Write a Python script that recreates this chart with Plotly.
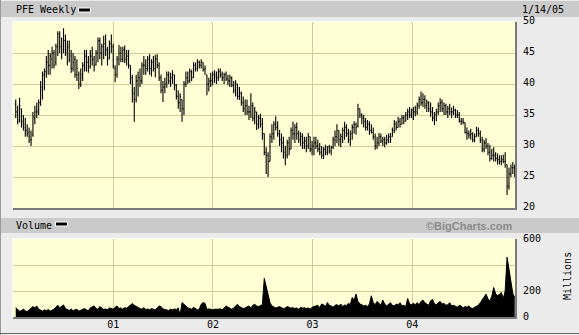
import pandas as pd
import plotly.graph_objects as go

# ---------------- data ----------------
dates = pd.date_range("2000-01-10", periods=262, freq="7D")

lows_2000 = [34.5,33.5,33.8,33.0,32.5,31.5,31.5,30.5,30.0,31.5, 33.5,34.5,35.0,36.5,37.5,39.0,41.0,41.5,41.5,42.5,
             42.5,43.0,44.5,45.0,44.0,45.0,44.5,43.0,43.5,41.8, 42.0,41.0,40.5,39.2,39.5,40.5,42.0,42.0,41.8,42.5,
             43.0,42.0,43.0,43.5,44.0,43.0,44.0,44.5,43.0,44.0, 45.0,42.5]
highs_2000 = [37.5,36.5,37.8,36.0,35.0,34.5,33.5,33.0,32.5,35.5, 36.5,37.0,37.5,40.5,42.0,42.5,44.5,45.5,45.0,46.0,
              45.5,46.5,48.5,48.5,47.5,49.0,48.0,47.0,47.0,45.5, 45.0,44.5,44.0,42.0,42.5,43.5,45.5,45.5,44.5,45.5,
              46.0,44.5,45.5,47.5,47.5,46.5,47.8,48.0,46.0,47.0, 48.0,46.5]
opens_2000 = [36.8,35.5,34.2,36.0,34.0,33.5,32.5,32.2,31.0,31.8, 34.5,35.5,35.8,37.0,39.0,41.5,42.0,43.5,43.0,44.0,
              45.0,43.5,46.0,47.5,46.0,45.5,47.0,45.0,46.0,44.5, 42.5,44.0,41.5,41.5,40.0,41.0,43.0,44.5,43.5,42.8,
              44.5,44.0,43.2,45.0,47.0,45.0,46.0,46.5,45.5,44.2, 46.5,46.0]
closes_2000 = [35.5,34.0,36.5,34.0,33.0,32.5,32.0,31.5,31.0,34.8, 35.5,35.5,37.0,39.5,41.5,42.0,43.5,43.0,44.5,45.0,
               43.0,46.0,48.0,46.0,45.0,47.0,45.5,46.0,44.0,42.5, 43.5,41.5,42.5,40.0,41.5,43.0,44.5,43.5,42.5,44.5,
               44.0,43.0,45.0,47.0,45.0,46.0,46.5,45.5,44.0,46.5, 46.0,43.0]

lows_2001 = [40.3,41.0,43.0,43.5,43.5,43.4,43.0,42.5,40.0,37.0, 33.9,37.0,38.0,39.5,40.0,41.5,41.5,42.0,41.5,41.2,
             42.0,41.1,42.5,40.5,38.5,37.1,38.5,39.4,40.0,39.5, 40.0,39.0,37.5,36.0,35.5,33.9,35.0,39.5,40.0,40.2,
             40.5,41.0,42.0,42.0,42.5,42.5,42.0,41.5,38.2,38.8, 39.5,39.8]
highs_2001 = [43.0,44.5,46.3,46.0,46.0,46.2,45.5,45.5,43.0,41.5, 39.5,41.5,42.0,42.5,43.5,44.5,44.0,44.5,44.8,44.0,
              44.5,44.7,44.8,43.5,41.5,40.5,41.0,42.0,42.0,41.8, 42.2,41.5,40.0,39.0,38.5,37.5,40.5,42.0,42.0,42.5,
              42.3,43.5,43.5,44.0,43.8,44.0,43.5,43.0,41.5,41.0, 41.8,42.0]
opens_2001 = [42.5,41.5,44.0,45.0,44.0,45.5,44.0,44.5,43.0,41.0, 38.5,37.5,40.5,41.0,40.5,43.0,43.0,42.5,44.0,42.5,
              43.5,42.5,44.0,43.0,41.0,39.0,39.5,40.0,41.5,40.5, 41.0,41.5,39.8,38.0,37.0,37.5,36.0,40.0,41.0,40.5,
              42.0,41.0,43.0,42.5,43.5,43.0,43.5,42.3,41.5,40.0, 40.5,40.5]
closes_2001 = [41.5,44.0,45.0,44.0,45.5,44.0,44.5,43.0,41.0,38.5, 37.5,40.5,41.0,40.5,43.0,43.0,42.5,44.0,42.5,43.5,
               42.5,44.0,43.0,41.0,39.0,39.5,40.0,41.5,40.5,41.0, 41.5,39.8,38.0,37.0,38.0,36.0,40.0,41.0,40.5,42.0,
               41.0,43.0,42.5,43.5,43.0,43.5,42.3,42.5,40.0,40.5, 40.5,41.5]

lows_2002 = [40.2, 40.0,40.5,41.0,40.5,40.0,40.5,39.8,39.5,39.5, 38.5,38.0,37.5,37.4,36.5,35.5,35.0,35.0,34.2,34.5,
             34.0,33.5,32.6,32.8,33.0,31.0,28.5,25.5,25.0,27.5, 30.5,31.0,32.5,31.5,30.0,29.0,28.0,26.9,28.0,28.5,
             29.5,31.0,30.5,31.0,30.5,30.0,29.5,29.5,29.0,29.5, 29.0,28.5,28.5]
highs_2002 = [42.2, 42.0,42.5,42.5,42.0,41.8,42.0,41.5,41.5,41.2, 40.5,40.6,40.0,39.5,38.8,38.0,37.5,37.5,36.5,38.5,
              37.0,36.3,35.5,35.0,35.2,34.5,32.0,29.8,29.0,32.0, 33.5,34.0,34.8,34.0,32.6,32.0,31.5,30.0,31.0,31.5,
              33.0,33.9,33.5,33.8,32.5,32.2,32.0,31.5,31.5,32.1, 31.5,30.8,31.5]
opens_2002 = [41.5, 41.5,41.0,42.0,41.5,41.0,41.5,40.8,40.5,41.0, 39.8,39.0,40.0,38.0,38.5,37.0,36.0,36.5,35.5,35.5,
              36.5,34.5,35.5,33.5,34.5,33.5,32.0,29.0,28.5,27.5, 31.5,32.0,33.5,33.0,32.0,31.0,30.5,29.0,28.5,30.5,
              29.5,32.5,32.0,33.0,32.0,31.0,31.5,30.5,30.8,30.0, 31.5,29.5,30.0]
closes_2002 = [41.2, 41.0,42.0,41.5,41.0,41.5,40.8,40.5,41.0,39.8, 39.0,40.0,38.0,38.5,37.0,36.0,36.5,35.5,35.5,36.5,
               34.5,35.5,33.5,34.5,33.5,32.0,29.0,28.5,27.5,31.5, 32.0,33.5,33.0,32.0,31.0,30.5,29.0,28.5,30.5,29.5,
               32.5,32.0,33.0,32.0,31.0,31.5,30.5,30.8,30.0,31.5, 29.5,30.0,30.5]

lows_2003 = [29.5,29.0,28.5,28.0,27.9,28.5,28.5,28.8,28.5,29.5, 30.0,30.5,30.0,29.8,30.5,31.0,31.5,30.5,30.0,31.0,
             32.0,31.8,33.0,34.5,33.5,33.0,32.5,32.5,31.8,32.0, 31.0,29.4,29.5,30.0,30.5,30.0,29.8,30.2,30.5,30.5,
             31.5,32.1,32.5,33.0,33.0,33.5,33.5,34.0,34.2,34.5, 34.5,34.2,34.8]
highs_2003 = [31.5,31.0,30.5,30.0,29.8,30.2,30.0,30.2,30.0,31.5, 32.5,33.5,32.5,32.0,33.0,33.9,33.5,32.8,32.5,33.5,
              34.0,33.8,36.8,36.0,35.3,35.0,34.5,34.2,34.0,33.5, 33.0,32.0,31.5,32.1,32.0,31.5,31.5,31.8,32.0,32.1,
              33.0,34.2,34.0,34.7,34.5,35.0,35.0,35.5,36.0,36.3, 36.0,36.3,36.5]
opens_2003 = [30.5,30.0,29.5,29.0,28.5,29.5,29.0,29.8,29.2,29.8, 31.0,31.5,32.5,31.0,31.5,32.5,33.0,32.0,31.0,32.0,
              33.0,33.5,33.2,36.0,35.0,34.5,34.0,33.0,33.5,32.5, 32.2,31.5,30.0,30.5,31.5,30.8,31.0,30.5,31.0,31.5,
              31.5,32.5,33.5,33.0,34.0,33.5,34.5,34.0,35.0,35.5, 35.0,35.8,35.5]
closes_2003 = [30.0,29.5,29.0,28.5,29.5,29.0,29.8,29.2,29.8,31.0, 31.5,32.5,31.0,31.5,32.5,33.0,32.0,31.0,32.0,33.0,
               33.5,33.0,36.0,35.0,34.5,34.0,33.0,33.5,32.5,32.2, 31.5,30.0,30.5,31.5,30.8,31.0,30.5,31.0,31.5,31.0,
               32.5,33.5,33.0,34.0,33.5,34.5,34.0,35.0,35.5,35.0, 35.8,35.5,36.0]

lows_2004 = [35.0,36.0,36.5,36.3,36.0,35.5,35.5,34.7,34.0,33.4, 34.0,35.0,35.5,35.5,35.0,35.0,34.5,35.0,34.5,35.0,
             34.5,34.5,33.8,33.4,33.5,32.0,31.0,31.2,31.0,30.6, 30.6,31.5,31.5,30.5,29.0,29.0,29.5,28.5,27.5,27.8,
             27.5,27.5,27.0,27.0,26.9,27.2,26.5,22.1,23.0,25.0, 25.5,25.0]
highs_2004 = [37.0,38.0,38.8,38.5,38.2,37.5,37.2,37.0,36.3,35.5, 36.0,37.0,37.7,37.5,37.0,36.8,36.5,36.8,36.2,36.5,
              36.0,35.8,35.5,34.5,34.5,33.8,33.0,32.5,32.8,32.2, 32.0,33.1,33.0,32.5,31.5,31.0,31.3,30.5,30.2,29.5,
              29.8,29.0,28.8,28.5,28.5,28.6,29.0,27.0,26.5,27.0, 27.4,27.0]
opens_2004 = [35.5,36.5,37.5,37.0,37.5,36.5,37.0,36.0,35.5,34.5, 35.0,35.5,36.5,37.0,36.0,36.5,35.5,36.0,35.5,35.5,
              35.8,35.0,35.0,34.0,34.0,33.8,32.2,32.0,31.8,32.0, 31.0,31.5,32.5,32.0,31.0,29.5,30.5,30.0,29.0,28.0,
              28.5,28.5,28.0,27.8,27.5,27.8,27.5,27.0,23.5,25.5, 26.5,26.5]
closes_2004 = [36.5,37.5,37.0,37.5,36.5,37.0,36.0,35.5,34.5,35.0, 35.5,36.5,37.0,36.0,36.5,35.5,36.0,35.5,35.5,35.8,
               35.0,35.0,34.0,34.0,33.8,32.2,32.0,31.8,32.0,31.0, 31.5,32.5,32.0,31.0,29.5,30.5,30.0,29.0,28.0,28.5,
               28.5,28.0,27.8,27.5,27.8,27.5,27.5,23.5,25.5,26.5, 26.5,26.0]

vol_2000 = [72,55,45,50,60,48,42,55,65,80, 70,85,60,50,45,55,48,58,45,52, 60,75,90,70,85,93,65,55,50,62,
            48,55,60,45,50,58,65,55,48,70, 75,85,65,60,80,70,58,62,55,70, 65,60]
vol_2001 = [75,85,65,70,60,72,68,80,95,103, 90,80,70,65,60,72,58,62,55,65, 60,55,70,85,80,62,58,55,50,60,
            55,62,58,70,15,111,100,85,70,65, 60,75,68,55,60,98,111,105,58,62, 60,55]
vol_2002 = [60, 58,60,62,56,70,85,75,65,60,70, 85,98,80,72,65,70,75,85,70,90, 98,85,80,90,95,297,235,150,110,85,
            78,70,75,80,72,65,70,80,75,68, 72,65,70,60,75,68,72,65,70,60,75,80]
vol_2003 = [85,90,72,100,95,80,111,90,85,75, 90,95,85,100,80,92,88,105,95,150, 130,176,120,100,95,85,90,80,100,163,
            110,95,120,105,90,130,100,85,95,110, 90,85,100,95,110,85,90,80,142,100, 95,105,95]
vol_2004 = [110,95,120,130,110,100,90,125,135,100, 95,110,120,100,105,90,95,110,85,90, 80,75,90,85,70,80,75,85,70,65,
            75,80,90,110,130,150,176,140,120,160, 227,180,165,175,189,140,200,460,356,292, 180,150]

lows = lows_2000 + lows_2001 + lows_2002 + lows_2003 + lows_2004
highs = highs_2000 + highs_2001 + highs_2002 + highs_2003 + highs_2004
opens = opens_2000 + opens_2001 + opens_2002 + opens_2003 + opens_2004
closes = closes_2000 + closes_2001 + closes_2002 + closes_2003 + closes_2004
volumes = vol_2000 + vol_2001 + vol_2002 + vol_2003 + vol_2004

year_ticks = ["2001-01-01", "2002-01-01", "2003-01-01", "2004-01-01"]
year_labels = ["01", "02", "03", "04"]
price_ticks = [20, 25, 30, 35, 40, 45, 50]
vol_ticks = [0, 200, 400, 600]
vol_labels = ["0", "200", "", "600"]

# ---------------- style ----------------
W, H = 579, 335
ML, MR, MT, MB = 13, 64, 22, 18
PW, PH = W - ML - MR, H - MT - MB
BG = "#ebebeb"
BAR = "#cacaca"
PLOT_BG = "#ffffd6"
GRID = "#cdcd9c"
MONO = "DejaVu Sans Mono"


def PX(px):
    return (px - ML) / PW


def PY(py):
    return (H - MB - py) / PH


fig = go.Figure()
fig.add_trace(go.Ohlc(
    x=dates, open=opens, high=highs, low=lows, close=closes,
    increasing=dict(line=dict(color="black", width=1.1)),
    decreasing=dict(line=dict(color="black", width=1.1)),
    tickwidth=0.45, xaxis="x", yaxis="y", hoverinfo="skip", showlegend=False,
))
fig.add_trace(go.Scatter(
    x=dates, y=volumes, mode="lines", fill="tozeroy",
    line=dict(color="black", width=1), fillcolor="black",
    xaxis="x2", yaxis="y2", hoverinfo="skip", showlegend=False,
))

xr = ["1999-12-31", "2005-01-11"]
axis_font = dict(family=MONO, size=10, color="black")

shapes = []
# header bars
for y0, y1 in [(1, 17), (218, 233)]:
    shapes.append(dict(type="rect", xref="paper", yref="paper",
                       x0=PX(1), x1=PX(W), y0=PY(y1), y1=PY(y0),
                       fillcolor=BAR, line=dict(width=0), layer="below"))
# legend swatches
for x0, x1, y0, y1 in [(78.5, 90.5, 8, 12), (55.5, 67.5, 222, 226)]:
    shapes.append(dict(type="rect", xref="paper", yref="paper",
                       x0=PX(x0), x1=PX(x1), y0=PY(y1), y1=PY(y0),
                       fillcolor="black", line=dict(color="white", width=1)))
# plot frames: highlight top/left, shadow right/bottom
for top, bot in [(22, 208), (239, 317)]:
    shapes.append(dict(type="line", xref="paper", yref="paper",
                       x0=PX(12.5), x1=PX(515), y0=PY(top - 0.5), y1=PY(top - 0.5),
                       line=dict(color="white", width=1)))
    shapes.append(dict(type="line", xref="paper", yref="paper",
                       x0=PX(12.5), x1=PX(12.5), y0=PY(top - 0.5), y1=PY(bot),
                       line=dict(color="white", width=1)))
    shapes.append(dict(type="line", xref="paper", yref="paper",
                       x0=PX(516), x1=PX(516), y0=PY(top), y1=PY(bot + 1.5),
                       line=dict(color="#7a7a7a", width=2)))
    shapes.append(dict(type="line", xref="paper", yref="paper",
                       x0=PX(13), x1=PX(517), y0=PY(bot + 1), y1=PY(bot + 1),
                       line=dict(color="#7a7a7a", width=2)))
# outer frame
shapes.append(dict(type="line", xref="paper", yref="paper",
                   x0=PX(0.5), x1=PX(0.5), y0=PY(0), y1=PY(H),
                   line=dict(color="#9a9a9a", width=1)))
shapes.append(dict(type="line", xref="paper", yref="paper",
                   x0=PX(0), x1=PX(W), y0=PY(333.5), y1=PY(333.5),
                   line=dict(color="#6a6a6a", width=1)))

annotations = [
    dict(text="PFE Weekly", x=PX(14), y=PY(9.5), xanchor="left", yanchor="middle",
         font=dict(family=MONO, size=10, color="black")),
    dict(text="1/14/05", x=PX(566), y=PY(9.5), xanchor="right", yanchor="middle",
         font=dict(family=MONO, size=10, color="black")),
    dict(text="Volume", x=PX(14), y=PY(225.5), xanchor="left", yanchor="middle",
         font=dict(family=MONO, size=10, color="black")),
    dict(text="<b>©BigCharts.com</b>", x=PX(515), y=PY(225.5), xanchor="right", yanchor="middle",
         font=dict(family="Liberation Sans", size=11, color="#8a8a8a")),
    dict(text="Millions", x=PX(567), y=PY(276), xanchor="center", yanchor="middle",
         textangle=-90, font=dict(family=MONO, size=10, color="black")),
]
for a in annotations:
    a.update(xref="paper", yref="paper", showarrow=False)

fig.update_layout(
    width=W, height=H,
    margin=dict(l=ML, r=MR, t=MT, b=MB, pad=0, autoexpand=False),
    paper_bgcolor=BG, plot_bgcolor=PLOT_BG,
    showlegend=False,
    xaxis=dict(domain=[0, 1], type="date", range=xr, tickvals=year_ticks,
               showticklabels=False, showgrid=True, gridcolor=GRID, gridwidth=1,
               zeroline=False, showline=False, ticks="", anchor="y", automargin=False,
               rangeslider=dict(visible=False), fixedrange=True),
    yaxis=dict(domain=[PY(208), 1], range=[20, 50], side="right", tickvals=price_ticks,
               showgrid=True, gridcolor=GRID, gridwidth=1, zeroline=False, showline=False,
               ticks="", ticklabelstandoff=7, ticklabelshift=-2, tickfont=axis_font,
               anchor="x", automargin=False, fixedrange=True),
    xaxis2=dict(domain=[0, 1], type="date", range=xr, tickvals=year_ticks, ticktext=year_labels,
                showgrid=True, gridcolor=GRID, gridwidth=1, zeroline=False, showline=False,
                ticks="", tickfont=axis_font, anchor="y2", automargin=False, fixedrange=True),
    yaxis2=dict(domain=[0, PY(239)], range=[0, 600], side="right", tickvals=vol_ticks,
                ticktext=vol_labels, showgrid=True, gridcolor=GRID, gridwidth=1,
                zeroline=False, showline=False, ticks="", ticklabelstandoff=7, ticklabelshift=-1,
                tickfont=axis_font, anchor="x2", automargin=False, fixedrange=True),
    shapes=shapes,
    annotations=annotations,
)

fig.write_html("out.html")
